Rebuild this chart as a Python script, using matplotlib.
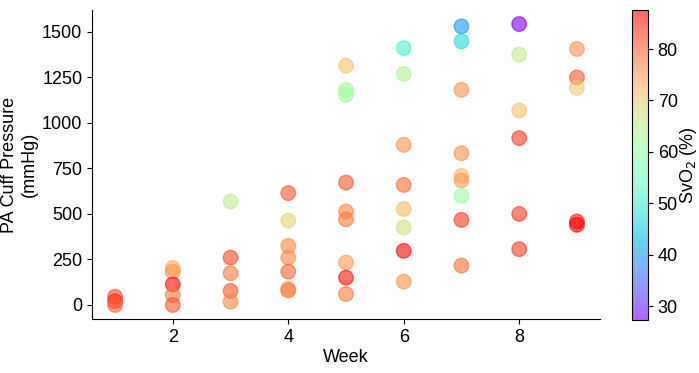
import numpy as np
import matplotlib
matplotlib.use("Agg")
import matplotlib.pyplot as plt

plt.rcParams['font.family'] = ['Liberation Sans', 'DejaVu Sans']
plt.rcParams['font.size'] = 13

# weekly PA cuff pressure readings and the matching SvO2 values
week = [1, 1, 1,
        2, 2, 2, 2, 2,
        3, 3, 3, 3, 3,
        4, 4, 4, 4, 4, 4, 4,
        5, 5, 5, 5, 5, 5, 5, 5, 5,
        6, 6, 6, 6, 6, 6, 6, 6,
        7, 7, 7, 7, 7, 7, 7, 7, 7,
        8, 8, 8, 8, 8, 8,
        9, 9, 9, 9, 9]
pressure = [45, 20, 0,
            203, 183, 113, 55, 0,
            568, 260, 174, 77, 18,
            614, 463, 324, 260, 183, 90, 80,
            1313, 1181, 1154, 672, 513, 470, 233, 150, 60,
            1410, 1268, 879, 659, 527, 425, 297, 128,
            1529, 1447, 1181, 833, 709, 683, 599, 467, 216,
            1542, 1374, 1068, 916, 500, 306,
            1405, 1249, 1191, 458, 440]
svo2 = [82, 85, 80,
        73, 76, 87, 78, 81,
        65, 82, 78, 81, 77,
        81, 69, 77, 77, 80, 72, 79,
        71, 62, 61, 81, 77, 78, 75, 86, 78,
        51, 63, 76, 79, 72, 67, 87, 76,
        40, 47, 76, 76, 72, 75, 61, 83, 79,
        27.3, 65, 71, 83, 83, 83,
        76, 81, 70, 86, 87.6]

fig = plt.figure(figsize=(6.99, 3.73), dpi=100)
ax = fig.add_axes([92/699, 1 - 319/373, 508/699, 309/373])
cax = fig.add_axes([632/699, 1 - 320/373, 16/699, 310/373])

sc = ax.scatter(week, pressure, c=svo2, cmap='rainbow', s=110, alpha=0.6)

ax.spines['top'].set_visible(False)
ax.spines['right'].set_visible(False)
ax.set_xticks([2, 4, 6, 8])
ax.set_yticks([0, 250, 500, 750, 1000, 1250, 1500])
ax.set_xlabel("Week", labelpad=2)
ax.set_ylabel("PA Cuff Pressure\n(mmHg)", labelpad=3)

cb = fig.colorbar(sc, cax=cax)
cb.set_label("SvO$_2$ (%)", labelpad=0)

fig.savefig("out.png", dpi=100)
